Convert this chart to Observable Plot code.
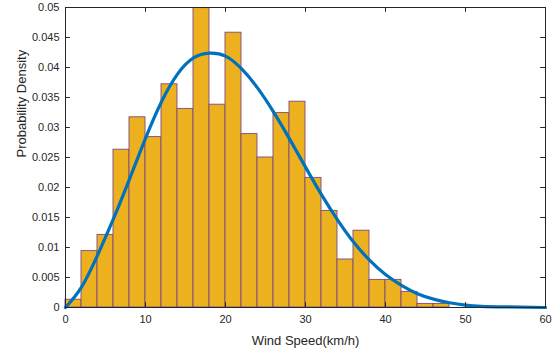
<!DOCTYPE html>
<html>
<head>
<meta charset="utf-8">
<script src="https://cdn.jsdelivr.net/npm/d3@7"></script>
<script src="https://cdn.jsdelivr.net/npm/@observablehq/plot@0.6"></script>
<style>
  html, body { margin: 0; padding: 0; background: #fff; }
  #chart svg { display: block; }
</style>
</head>
<body>
<div id="chart"></div>
<script>
// Histogram bins (left edges, km/h) and probability density per bin
const binStarts = [0, 2, 4, 6, 8, 10, 12, 14, 16, 18, 20, 22, 24, 26, 28, 30, 32, 34, 36, 38, 40, 42, 44, 46];
const binWidth = 2;
const densities = [0.0013, 0.0094, 0.0121, 0.0263, 0.0317, 0.0284, 0.0372, 0.0331, 0.0499, 0.0338, 0.0458, 0.0289,
                   0.0250, 0.0324, 0.0343, 0.0216, 0.0161, 0.0080, 0.0128, 0.0046, 0.0046, 0.0026, 0.0006, 0.0006];

// Fitted density curve
const curveX = [0, 2, 4, 6, 8, 10, 12, 14, 16, 18, 20, 22, 24, 26, 28, 30, 32, 34, 36, 38, 40, 42, 44, 46, 48, 50, 52, 55, 60];
const curveY = [0, 0.0034, 0.0087, 0.0148, 0.0214, 0.0282, 0.0343, 0.0389, 0.0416, 0.0424, 0.0419, 0.0398, 0.0366,
                0.0326, 0.0281, 0.0234, 0.0188, 0.0146, 0.0109, 0.0079, 0.0055, 0.0037, 0.0023, 0.0014, 0.0008,
                0.0004, 0.0002, 0.0001, 0];

// Tick labels
const xTicks = [0, 10, 20, 30, 40, 50, 60];
const yTicks = [0, 0.005, 0.01, 0.015, 0.02, 0.025, 0.03, 0.035, 0.04, 0.045, 0.05];

const xLabel = "Wind Speed(km/h)";
const yLabel = "Probability Density";

const bins = binStarts.map((s, i) => ({x1: s, x2: s + binWidth, y: densities[i]}));
const curve = curveX.map((x, i) => ({x, y: curveY[i]}));

const axisColor = "#262626";
const font = "'Liberation Sans', Arial, Helvetica, sans-serif";

const chart = Plot.plot({
  width: 555,
  height: 352,
  marginLeft: 65,
  marginRight: 10,
  marginTop: 7,
  marginBottom: 45,
  style: {fontFamily: font, background: "#fff", color: axisColor},
  x: {domain: [0, 60]},
  y: {domain: [0, 0.05]},
  marks: [
    Plot.rectY(bins, {x1: "x1", x2: "x2", y: "y", fill: "#EDB120", stroke: "#7E4A7E", strokeWidth: 0.9}),
    Plot.line(curve, {x: "x", y: "y", stroke: "#0072BD", strokeWidth: 3.2, curve: "natural"}),
    Plot.frame({stroke: axisColor, strokeWidth: 1}),
    // inward ticks (bottom, top, left, right)
    Plot.ruleX(xTicks, {x: d => d, y1: 0, y2: 0.0008, stroke: axisColor}),
    Plot.ruleX(xTicks, {x: d => d, y1: 0.05, y2: 0.0492, stroke: axisColor}),
    Plot.ruleY(yTicks, {y: d => d, x1: 0, x2: 0.6, stroke: axisColor}),
    Plot.ruleY(yTicks, {y: d => d, x1: 60, x2: 59.4, stroke: axisColor}),
    Plot.axisX({ticks: xTicks, tickSize: 0, tickPadding: 8, fontSize: 11, tickFormat: d => String(d),
                label: null, fill: axisColor}),
    Plot.axisY({ticks: yTicks, tickSize: 0, tickPadding: 6, fontSize: 11, tickFormat: d => String(d),
                label: null, fill: axisColor}),
    Plot.text([xLabel], {frameAnchor: "bottom", dy: 33, lineAnchor: "middle", text: d => d, fontSize: 13, fill: axisColor}),
    Plot.text([yLabel], {frameAnchor: "left", dx: -44, rotate: -90, text: d => d, fontSize: 13, fill: axisColor})
  ]
});

document.getElementById("chart").appendChild(chart);
</script>
</body>
</html>
